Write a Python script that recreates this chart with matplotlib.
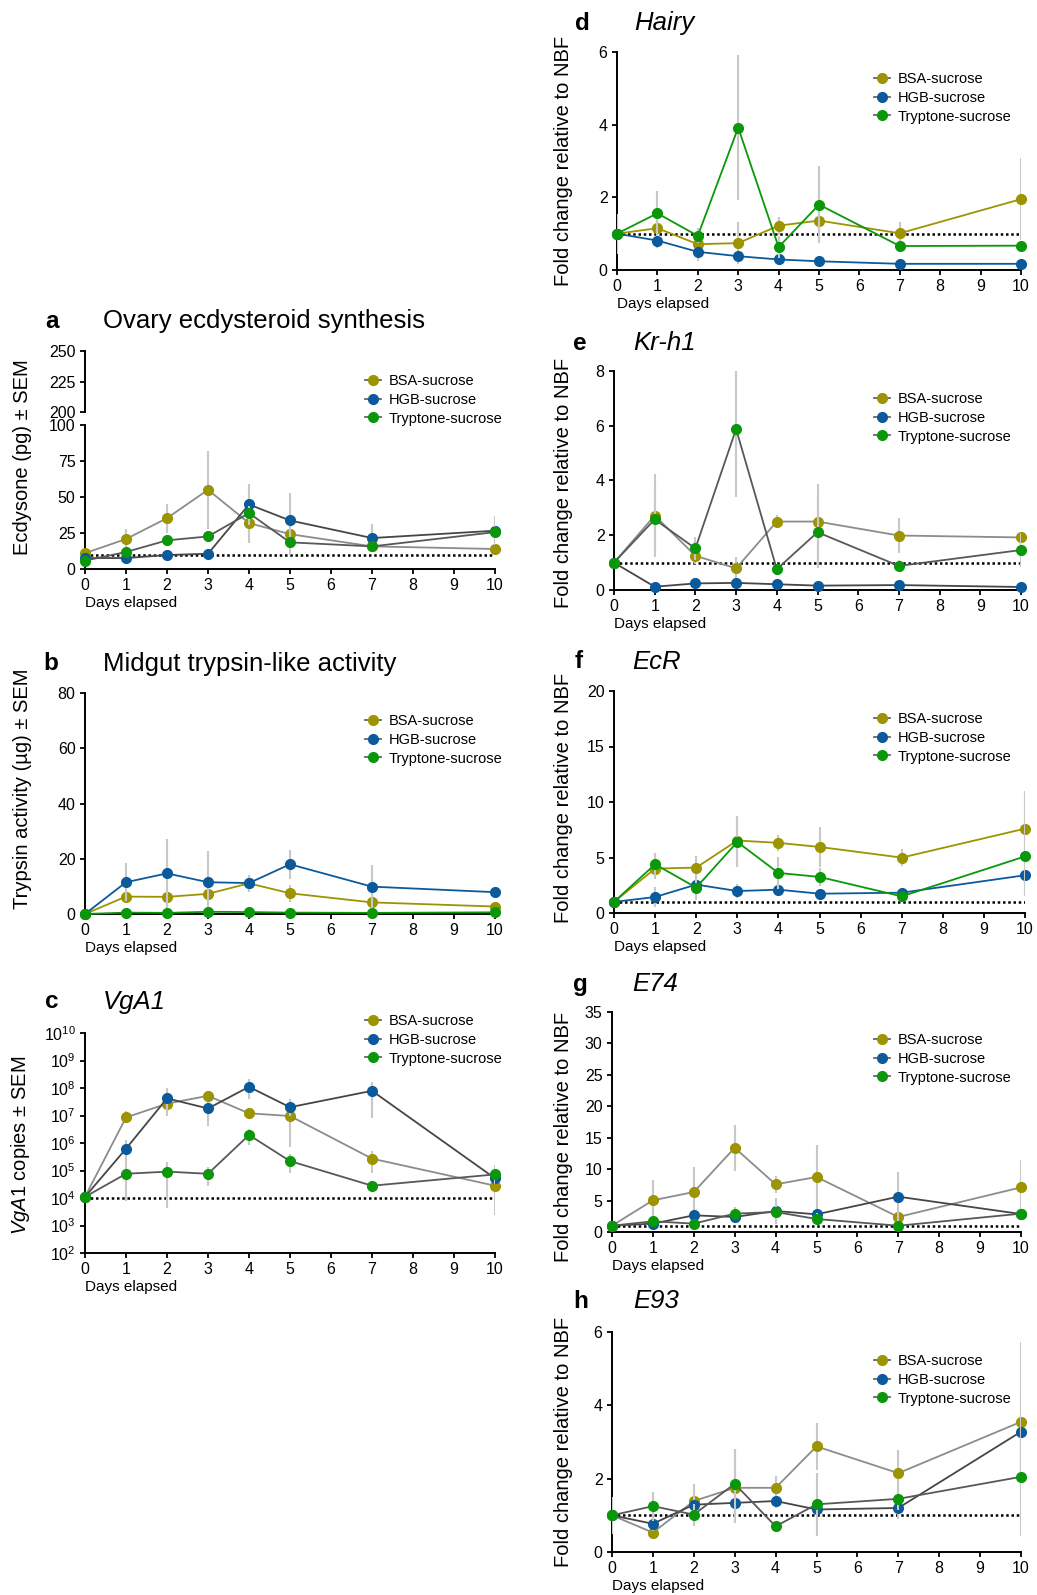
import matplotlib
matplotlib.use('Agg')
import matplotlib.pyplot as plt
from matplotlib.lines import Line2D
from matplotlib.ticker import LogLocator, NullLocator

plt.rcParams['font.family'] = ['Liberation Sans', 'DejaVu Sans']
plt.rcParams['mathtext.fontset'] = 'custom'
plt.rcParams['mathtext.rm'] = 'Liberation Sans'
plt.rcParams['mathtext.it'] = 'Liberation Sans:italic'

W, H = 1037, 1595
days = [0, 1, 2, 3, 4, 5, 7, 10]
groups = ['BSA-sucrose', 'HGB-sucrose', 'Tryptone-sucrose']
colors = ['#9c9400', '#0b5a9c', '#0a980a']
gray_lines = ['#8c8c8c', '#464646', '#585858']

# a - ovary ecdysone (pg)
ecd_bsa = [11.0, 20.8, 35.3, 55.0, 31.9, 24.2, 15.7, 13.9]
ecd_hgb = [7.6, 7.6, 9.7, 10.6, 44.8, 33.7, 21.5, 26.6]
ecd_try = [5.8, 11.8, 19.9, 22.6, 38.8, 18.5, 15.7, 25.6]
ecd_bsa_sem = [1.5, 7.0, 10.0, 27.0, 14.0, 4.0, 3.0, 2.0]
ecd_hgb_sem = [1.0, 1.0, 2.0, 2.0, 14.0, 19.0, 10.0, 10.0]
ecd_try_sem = [1.0, 2.0, 3.0, 3.0, 5.0, 8.5, 3.0, 5.0]

# b - trypsin activity (ug)
tryp_bsa = [0.0, 6.3, 6.2, 7.3, 11.1, 7.5, 4.2, 2.7]
tryp_hgb = [0.0, 11.5, 14.7, 11.5, 11.2, 18.0, 9.9, 7.9]
tryp_try = [0.0, 0.5, 0.4, 0.8, 0.7, 0.5, 0.4, 0.6]
tryp_bsa_sem = [0.0, 2.0, 4.0, 4.0, 3.0, 3.0, 1.0, 0.5]
tryp_hgb_sem = [0.0, 6.9, 12.4, 11.3, 2.0, 5.2, 7.7, 0.5]
tryp_try_sem = [0.0, 0.2, 0.2, 0.3, 0.3, 0.2, 0.2, 0.2]

# c - VgA1 copies (log axis, explicit bar ends)
vg_bsa = [1.1e4, 8.5e6, 2.7e7, 5.2e7, 1.2e7, 9.6e6, 2.7e5, 2.8e4]
vg_bsa_lo = [1.0e4, 6.3e6, 1.0e7, 3.2e7, 7.9e6, 7.4e5, 7.9e4, 2.5e3]
vg_bsa_hi = [1.2e4, 1.4e7, 4.0e7, 7.9e7, 1.8e7, 2.0e7, 5.0e5, 5.0e4]
vg_hgb = [1.1e4, 6.2e5, 4.2e7, 1.8e7, 1.1e8, 2.0e7, 7.9e7, 5.2e4]
vg_hgb_lo = [1.0e4, 1.0e5, 1.6e7, 4.0e6, 4.0e7, 1.0e7, 8.0e6, 3.2e4]
vg_hgb_hi = [1.2e4, 1.3e6, 1.0e8, 3.2e7, 2.1e8, 4.0e7, 1.6e8, 8.0e4]
vg_try = [1.1e4, 7.6e4, 9.1e4, 7.6e4, 1.95e6, 2.2e5, 2.8e4, 7.2e4]
vg_try_lo = [1.0e4, 7.5e3, 4.3e3, 2.8e4, 8.5e5, 8.0e4, 2.0e4, 3.2e4]
vg_try_hi = [1.2e4, 1.6e5, 2.0e5, 1.3e5, 3.2e6, 4.0e5, 4.0e4, 1.6e5]

# d - Hairy
hairy_bsa = [1.0, 1.15, 0.71, 0.74, 1.22, 1.36, 1.01, 1.95]
hairy_hgb = [1.0, 0.81, 0.50, 0.38, 0.29, 0.24, 0.17, 0.17]
hairy_try = [1.0, 1.56, 0.94, 3.92, 0.63, 1.80, 0.66, 0.67]
hairy_bsa_sem = [0.55, 0.55, 0.45, 0.57, 0.25, 0.6, 0.32, 1.13]
hairy_hgb_sem = [0.3, 0.1, 0.1, 0.1, 0.05, 0.05, 0.03, 0.03]
hairy_try_sem = [0.2, 0.62, 0.2, 2.0, 0.3, 1.05, 0.1, 0.1]

# e - Kr-h1
krh1_bsa = [1.0, 2.72, 1.25, 0.79, 2.50, 2.50, 1.99, 1.92]
krh1_hgb = [1.0, 0.12, 0.24, 0.26, 0.21, 0.16, 0.18, 0.11]
krh1_try = [1.0, 2.58, 1.52, 5.88, 0.76, 2.11, 0.88, 1.46]
krh1_bsa_sem = [0.1, 1.5, 0.3, 0.4, 0.25, 1.37, 0.65, 0.2]
krh1_hgb_sem = [0.05, 0.03, 0.03, 0.03, 0.03, 0.03, 0.03, 0.03]
krh1_try_sem = [0.1, 1.2, 0.43, 2.5, 0.2, 1.3, 0.2, 0.63]

# f - EcR
ecr_bsa = [1.0, 4.00, 4.09, 6.53, 6.32, 5.95, 4.99, 7.60]
ecr_hgb = [1.0, 1.44, 2.56, 1.98, 2.10, 1.74, 1.83, 3.40]
ecr_try = [1.0, 4.39, 2.29, 6.40, 3.61, 3.25, 1.50, 5.10]
ecr_bsa_sem = [0.1, 0.9, 1.05, 2.2, 0.75, 1.8, 0.75, 3.4]
ecr_hgb_sem = [0.1, 0.9, 0.5, 0.6, 0.5, 0.3, 0.4, 1.0]
ecr_try_sem = [0.1, 1.05, 1.15, 2.3, 1.45, 0.8, 0.5, 3.6]

# g - E74
e74_bsa = [1.0, 5.04, 6.36, 13.4, 7.58, 8.75, 2.39, 7.10]
e74_hgb = [1.0, 1.33, 2.65, 2.39, 3.34, 2.81, 5.62, 2.86]
e74_try = [1.0, 1.70, 1.33, 2.92, 3.18, 2.07, 1.00, 2.92]
e74_bsa_sem = [0.2, 3.2, 4.0, 3.7, 1.4, 5.1, 1.0, 4.4]
e74_hgb_sem = [0.2, 0.5, 1.0, 0.8, 2.0, 1.5, 3.9, 0.8]
e74_try_sem = [0.2, 0.5, 0.5, 1.0, 1.5, 1.0, 0.3, 0.8]

# h - E93
e93_bsa = [1.0, 0.53, 1.39, 1.75, 1.75, 2.88, 2.15, 3.55]
e93_hgb = [1.0, 0.77, 1.29, 1.34, 1.39, 1.16, 1.20, 3.28]
e93_try = [1.0, 1.25, 1.02, 1.86, 0.70, 1.30, 1.45, 2.05]
e93_bsa_sem = [0.5, 0.15, 0.47, 0.95, 0.32, 0.65, 0.62, 2.18]
e93_hgb_sem = [0.2, 0.2, 0.3, 0.3, 0.2, 0.3, 0.3, 1.0]
e93_try_sem = [0.2, 0.4, 0.3, 0.95, 0.1, 0.85, 0.3, 1.6]

fig = plt.figure(figsize=(W / 100, H / 100), dpi=100)


def add_axes(x0, x1, y0, y1):
    ax = fig.add_axes([x0 / W, 1 - y1 / H, (x1 - x0) / W, (y1 - y0) / H])
    for s in ['top', 'right']:
        ax.spines[s].set_visible(False)
    for s in ['left', 'bottom']:
        ax.spines[s].set_linewidth(1.4)
    ax.tick_params(labelsize=11.5, length=3.8, width=1.3, pad=3)
    return ax


def draw(ax, vals, errs, line_cols, baseline):
    for i in range(3):
        z = 3 + i * 3
        ax.errorbar(days, vals[i], yerr=errs[i], fmt='none', ecolor='#c8c8c8',
                    elinewidth=1.5, capsize=0, zorder=z)
        ax.plot(days, vals[i], color=line_cols[i], lw=1.3, zorder=z + 1, clip_on=False)
        ax.plot(days, vals[i], 'o', color=colors[i], ms=7, zorder=z + 2, clip_on=False)
    ax.plot([0, 10], [baseline, baseline], color='black', lw=1.8,
            ls=(0, (1, 1.1)), zorder=2)
    ax.set_xlim(0, 10)
    ax.set_xticks(range(11))
    ax.set_xlabel('Days elapsed', loc='left', fontsize=11, labelpad=2)


def legend_at(mx, my):
    fs = 10.5
    fpx = fs * 100 / 72
    hl = 1.1
    handles = [Line2D([], [], color='#666666', lw=1.3, marker='o', ms=7, mfc=c, mec=c)
               for c in colors]
    left = mx - hl * fpx / 2
    top = my - fpx * 0.6
    fig.legend(handles, groups, loc='upper left', bbox_to_anchor=(left / W, 1 - top / H),
               frameon=False, borderpad=0, borderaxespad=0, handlelength=hl,
               handletextpad=0.55, labelspacing=0.32, fontsize=fs)


def heading(lx, tx, y, letter, title, italic):
    fig.text(lx / W, 1 - y / H, letter, fontsize=17.5, fontweight='bold', va='center')
    fig.text(tx / W, 1 - y / H, title, fontsize=18.5, va='center',
             fontstyle='italic' if italic else 'normal')


# panel a (broken y axis)
ax_hi = add_axes(85, 495, 351, 412)
ax_hi.spines['bottom'].set_visible(False)
ax_hi.set_xlim(0, 10)
ax_hi.set_ylim(200, 250)
ax_hi.set_yticks([200, 225, 250])
ax_hi.set_xticks([])
ax_a = add_axes(85, 495, 425, 569)
draw(ax_a, [ecd_bsa, ecd_hgb, ecd_try], [ecd_bsa_sem, ecd_hgb_sem, ecd_try_sem],
     gray_lines, 10)
ax_a.set_ylim(0, 100)
ax_a.set_yticks([0, 25, 50, 75, 100])
ax_a.set_ylabel('Ecdysone (pg) ± SEM', fontsize=14.5)
ax_a.yaxis.set_label_coords(-0.129, 0.78)
heading(45, 103, 321, 'a', 'Ovary ecdysteroid synthesis', False)
legend_at(373, 383)

# panel b
ax_b = add_axes(85, 495, 693, 914)
draw(ax_b, [tryp_bsa, tryp_hgb, tryp_try], [tryp_bsa_sem, tryp_hgb_sem, tryp_try_sem],
     colors, 0)
ax_b.set_ylim(0, 80)
ax_b.set_yticks([0, 20, 40, 60, 80])
ax_b.set_ylabel('Trypsin activity (µg) ± SEM', fontsize=14.5)
ax_b.yaxis.set_label_coords(-0.129, 0.566)
heading(43, 103, 664, 'b', 'Midgut trypsin-like activity', False)
legend_at(373, 723)

# panel c (log)
ax_c = add_axes(85, 495, 1033, 1253)
ax_c.set_yscale('log')
vg_vals = [vg_bsa, vg_hgb, vg_try]
vg_errs = [[[v - l for v, l in zip(vs, lo)], [h - v for v, h in zip(vs, hi)]]
           for vs, lo, hi in [(vg_bsa, vg_bsa_lo, vg_bsa_hi),
                              (vg_hgb, vg_hgb_lo, vg_hgb_hi),
                              (vg_try, vg_try_lo, vg_try_hi)]]
draw(ax_c, vg_vals, vg_errs, gray_lines, 1e4)
ax_c.set_ylim(1e2, 1e10)
ax_c.yaxis.set_major_locator(LogLocator(base=10, numticks=20))
ax_c.yaxis.set_minor_locator(NullLocator())
ax_c.set_ylabel('$\\it{VgA1}$ copies ± SEM', fontsize=14.5)
ax_c.yaxis.set_label_coords(-0.129, 0.49)
heading(45, 103, 1002, 'c', 'VgA1', True)
legend_at(373, 1023)

# right column
right = [
    ((617, 1021, 52, 270), [hairy_bsa, hairy_hgb, hairy_try],
     [hairy_bsa_sem, hairy_hgb_sem, hairy_try_sem], colors, 6, [0, 2, 4, 6],
     'd', 'Hairy', (575, 634, 23), (882, 81), 0.5),
    ((614, 1021, 371, 590), [krh1_bsa, krh1_hgb, krh1_try],
     [krh1_bsa_sem, krh1_hgb_sem, krh1_try_sem], gray_lines, 8, [0, 2, 4, 6, 8],
     'e', 'Kr-h1', (573, 633, 343), (882, 401), 0.49),
    ((614, 1025, 691, 913), [ecr_bsa, ecr_hgb, ecr_try],
     [ecr_bsa_sem, ecr_hgb_sem, ecr_try_sem], colors, 20, [0, 5, 10, 15, 20],
     'f', 'EcR', (575, 632, 662), (882, 721), 0.52),
    ((612, 1021, 1012, 1232), [e74_bsa, e74_hgb, e74_try],
     [e74_bsa_sem, e74_hgb_sem, e74_try_sem], gray_lines, 35, list(range(0, 36, 5)),
     'g', 'E74', (573, 632, 984), (882, 1042), 0.43),
    ((612, 1021, 1332, 1552), [e93_bsa, e93_hgb, e93_try],
     [e93_bsa_sem, e93_hgb_sem, e93_try_sem], gray_lines, 6, [0, 2, 4, 6],
     'h', 'E93', (573, 633, 1301), (882, 1363), 0.5),
]

for box, vals, errs, lc, ymax, yt, letter, title, hpos, lpos, lab_y in right:
    ax = add_axes(*box)
    draw(ax, vals, errs, lc, 1)
    ax.set_ylim(0, ymax)
    ax.set_yticks(yt)
    ax.set_ylabel('Fold change relative to NBF', fontsize=14.5)
    ax.yaxis.set_label_coords((573 - box[0]) / (box[1] - box[0]), lab_y)
    heading(hpos[0], hpos[1], hpos[2], letter, title, True)
    legend_at(*lpos)

fig.savefig('out.png', dpi=100)
